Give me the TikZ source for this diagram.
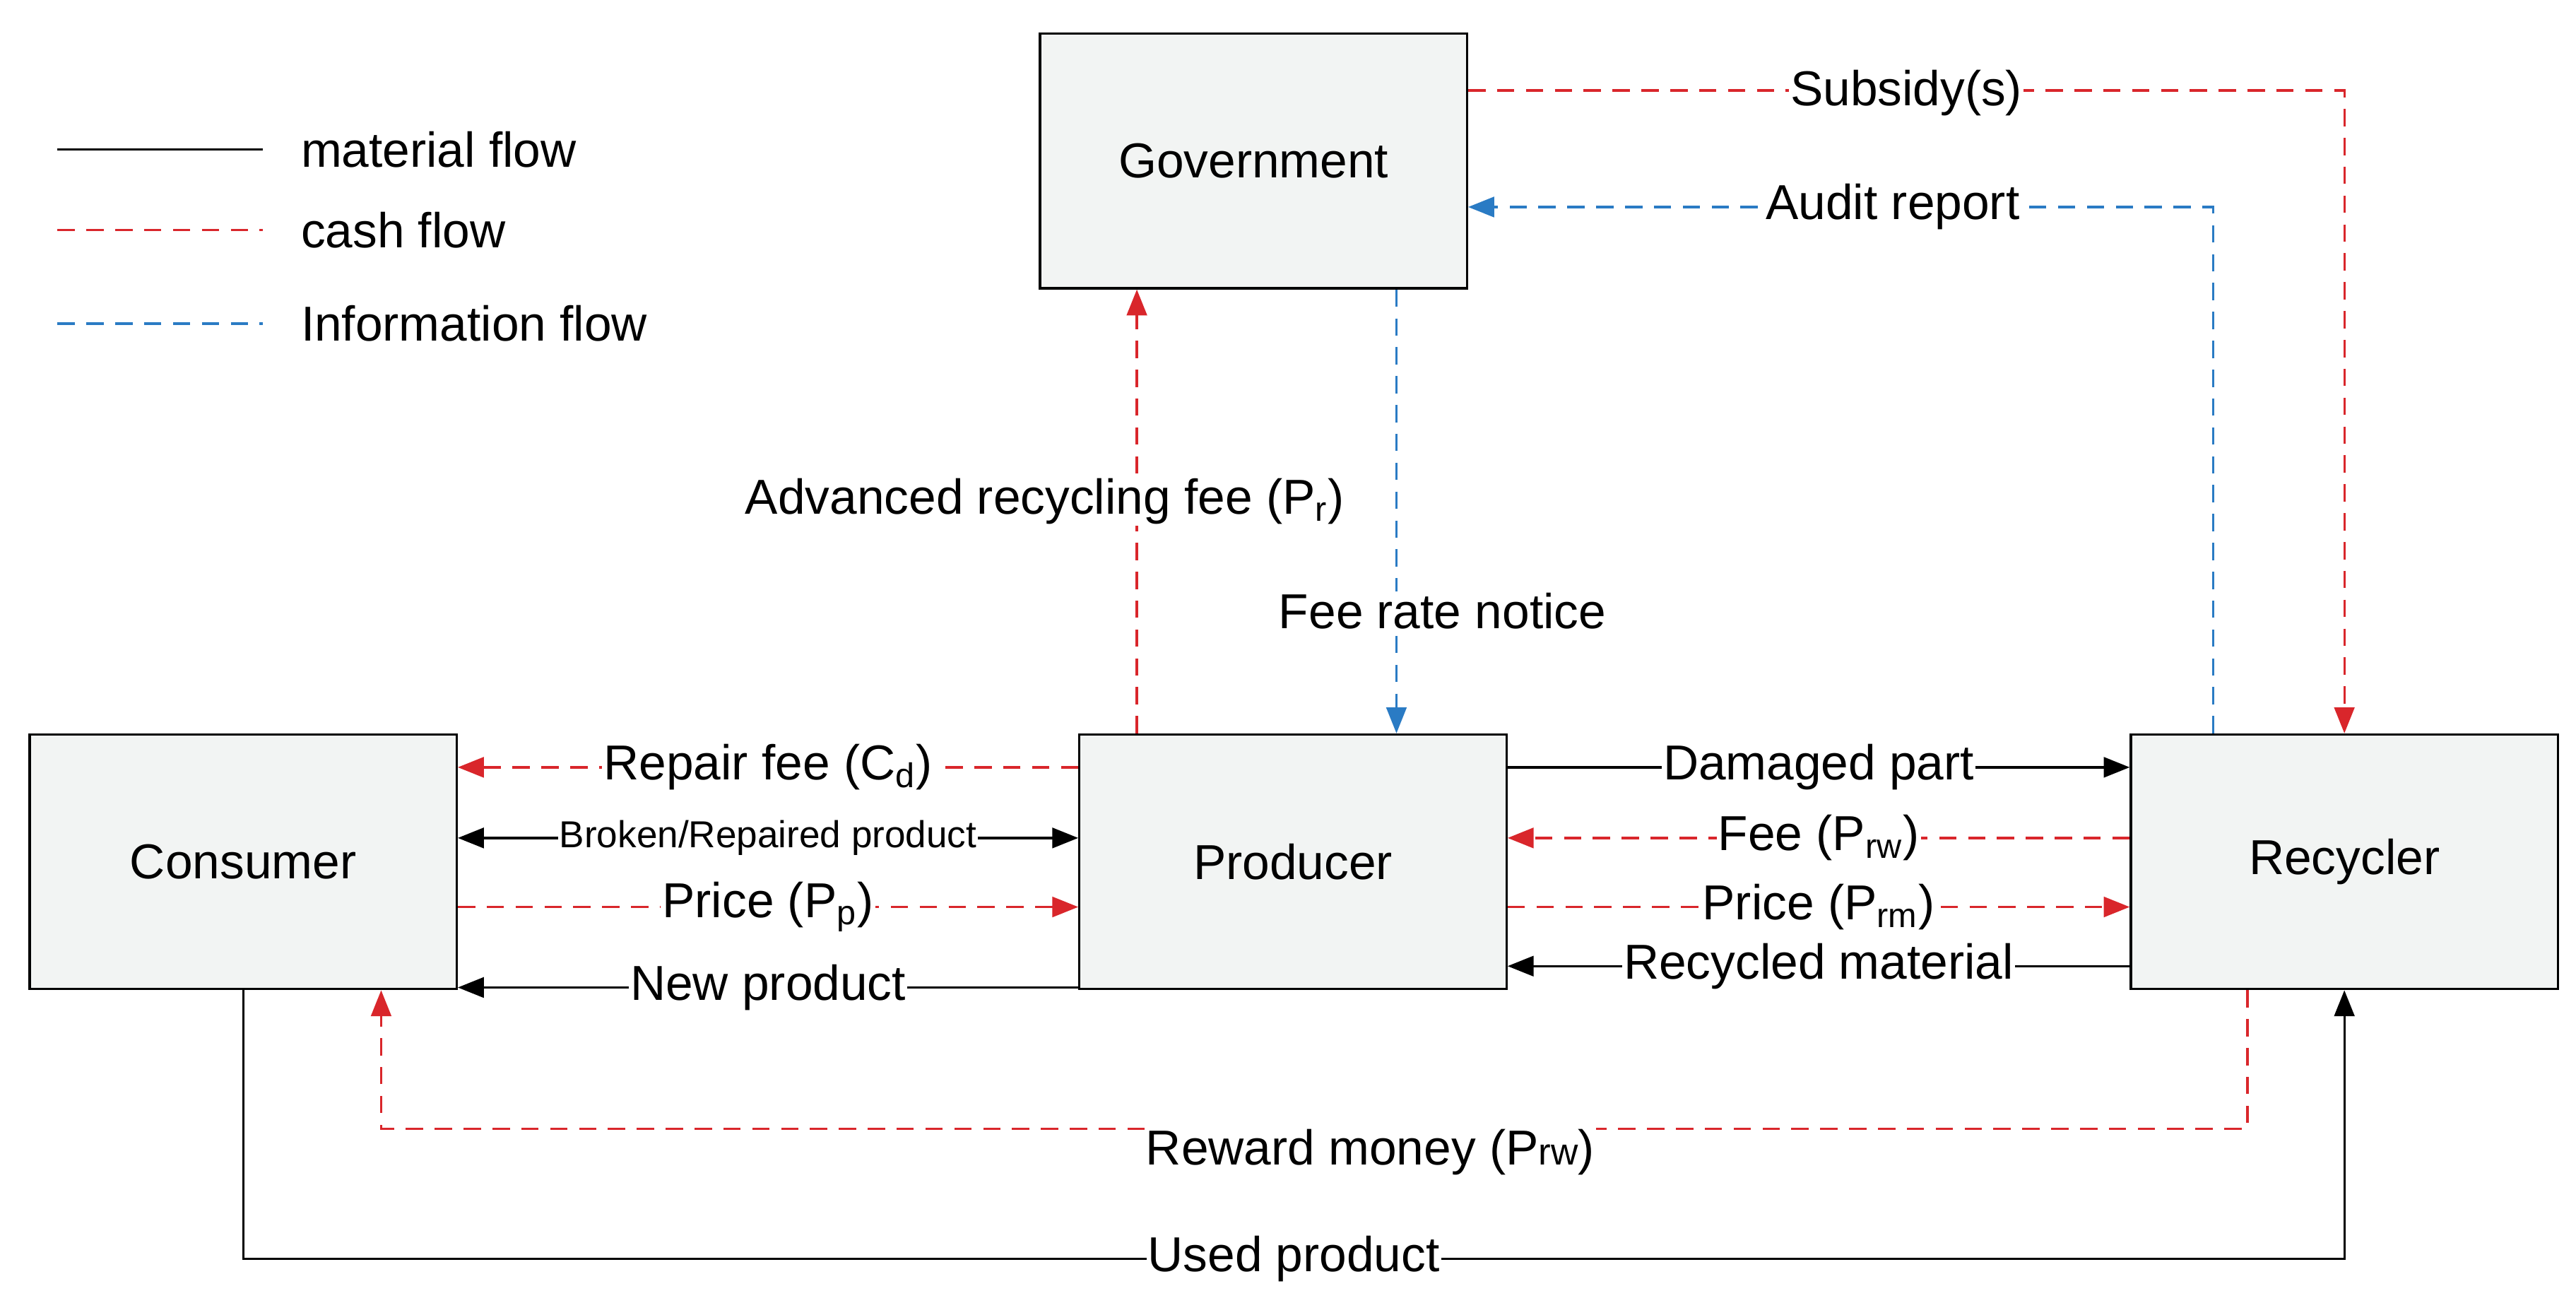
\documentclass[tikz,border=0pt]{standalone}
\usepackage{fontspec}
\setmainfont{Liberation Sans}
\usetikzlibrary{arrows.meta}
\definecolor{cred}{HTML}{D9262B}
\definecolor{cblue}{HTML}{2A7BC4}
\definecolor{boxfill}{HTML}{F2F4F3}
\begin{document}
\begin{tikzpicture}[x=0.02cm,y=-0.02cm,
  font=\fontsize{17}{20}\selectfont,
  box/.style={draw,fill=boxfill,minimum width=5.2cm,minimum height=3.1cm,line width=0.8pt},
  mat/.style={line width=0.8pt,-{Triangle[length=9pt,width=7pt]}},
  cash/.style={cred,line width=0.8pt,dash pattern=on 6pt off 4pt,-{Triangle[length=9pt,width=7pt]}},
  info/.style={cblue,line width=0.8pt,dash pattern=on 6pt off 4pt,-{Triangle[length=9pt,width=7pt]}},
  lab/.style={fill=white,inner sep=0.5pt,text=black}]
\useasboundingbox (0,0) rectangle (1568,793);
\node[box] (gov) at (763,98) {Government};
\node[box] (con) at (148,524.5) {Consumer};
\node[box] (prod) at (787,524.5) {Producer};
\node[box] (rec) at (1427,524.5) {Recycler};
% legend
\coordinate (l1a) at (35,91); \coordinate (l1b) at (160,91);
\coordinate (l2a) at (35,140); \coordinate (l2b) at (160,140);
\coordinate (l3a) at (35,197); \coordinate (l3b) at (160,197);
\draw[line width=0.8pt] (l1a) -- (l1b);
\draw[cred,line width=0.8pt,dash pattern=on 6pt off 4pt] (l2a) -- (l2b);
\draw[cblue,line width=0.8pt,dash pattern=on 6pt off 4pt] (l3a) -- (l3b);
\node[anchor=west] (t1) at (177,91) {material flow};
\node[anchor=west] (t2) at (177,140) {cash flow};
\node[anchor=west] (t3) at (177,197) {Information flow};
% helper coordinates
\coordinate (ys) at (0,55); \coordinate (ya) at (0,126);
\coordinate (xs) at (1427,0); \coordinate (xa) at (1347,0);
\coordinate (xadv) at (692,0); \coordinate (xfee) at (850,0);
\coordinate (y1) at (0,467); \coordinate (y2) at (0,510);
\coordinate (y3) at (0,552); \coordinate (y4) at (0,601); \coordinate (y5) at (0,588);
\coordinate (yr) at (0,687); \coordinate (yu) at (0,766);
\coordinate (xr1) at (1368,0); \coordinate (xr2) at (232,0);
% government links
\draw[cash] (gov.east |- ys) -- (xs |- ys) node[lab,pos=0.5,yshift=-1pt] {Subsidy(s)} -- (rec.north -| xs);
\draw[info] (rec.north -| xa) -- (xa |- ya) -- (gov.east |- ya) node[lab,pos=0.43] {Audit report};
\draw[cash] (prod.north -| xadv) -- (gov.south -| xadv);
\node[lab] (advlab) at (636,305) {Advanced recycling fee (P\textsubscript{r})};
\draw[info] (gov.south -| xfee) -- (prod.north -| xfee);
\node[lab] (feelab) at (878,372) {Fee rate notice};
% consumer-producer
\draw[cash] (prod.west |- y1) -- (con.east |- y1) node[lab,midway] {Repair fee (C\textsubscript{d})};
\draw[line width=0.8pt,{Triangle[length=9pt,width=7pt]}-{Triangle[length=9pt,width=7pt]}] (con.east |- y2) -- (prod.west |- y2) node[lab,midway,font=\fontsize{13}{15}\selectfont] {Broken/Repaired product};
\draw[cash] (con.east |- y3) -- (prod.west |- y3) node[lab,midway] {Price (P\textsubscript{p})};
\draw[mat] (prod.west |- y4) -- (con.east |- y4) node[lab,midway] {New product};
% producer-recycler
\draw[mat] (prod.east |- y1) -- (rec.west |- y1) node[lab,midway] {Damaged part};
\draw[cash] (rec.west |- y2) -- (prod.east |- y2) node[lab,midway] {Fee (P\textsubscript{rw})};
\draw[cash] (prod.east |- y3) -- (rec.west |- y3) node[lab,midway] {Price (P\textsubscript{rm})};
\draw[mat] (rec.west |- y5) -- (prod.east |- y5) node[lab,midway] {Recycled material};
% bottom loops
\draw[cash] (rec.south -| xr1) -- (xr1 |- yr) -- (xr2 |- yr) node[lab,pos=0.47,yshift=-8pt] {Reward money (P{\fontsize{13}{15}\selectfont rw})} -- (con.south -| xr2);
\draw[mat] (con.south) -- (con.south |- yu) -- (rec.south |- yu) node[lab,midway] {Used product} -- (rec.south);
\end{tikzpicture}
\end{document}
